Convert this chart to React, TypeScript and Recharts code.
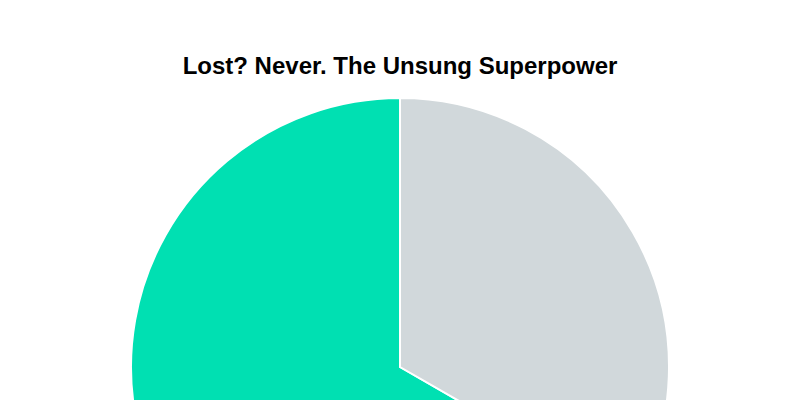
import React from "react";
import { PieChart, Pie, Cell } from "recharts";

const categories = ["Never lost", "Other"];
const values = [66.7, 33.3];
const colors = ["#00e0b2", "#d1d8db"];
const title = "Lost? Never. The Unsung Superpower";

const data = categories.map((name, i) => ({ name, value: values[i] }));

export default function App() {
  return (
    <div style={{ position: "absolute", left: 0, top: 0, width: 800, height: 400, overflow: "hidden", background: "#fff" }}>
      <div
        style={{
          position: "absolute",
          left: 0,
          top: 52,
          width: 800,
          textAlign: "center",
          fontFamily: "'Liberation Sans', Arial, sans-serif",
          fontWeight: "bold",
          fontSize: 24,
          lineHeight: "28px",
          color: "#000",
        }}
      >
        {title}
      </div>
      <PieChart
        width={800}
        height={400}
        margin={{ top: 0, right: 0, bottom: 0, left: 0 }}
        style={{ position: "absolute", left: 0, top: 0 }}
      >
        <Pie
          data={data}
          dataKey="value"
          nameKey="name"
          cx={400}
          cy={367}
          innerRadius={0}
          outerRadius={269}
          startAngle={90}
          endAngle={450}
          stroke="#ffffff"
          strokeWidth={2}
          isAnimationActive={false}
        >
          {data.map((d, i) => (
            <Cell key={d.name} fill={colors[i]} />
          ))}
        </Pie>
      </PieChart>
    </div>
  );
}
